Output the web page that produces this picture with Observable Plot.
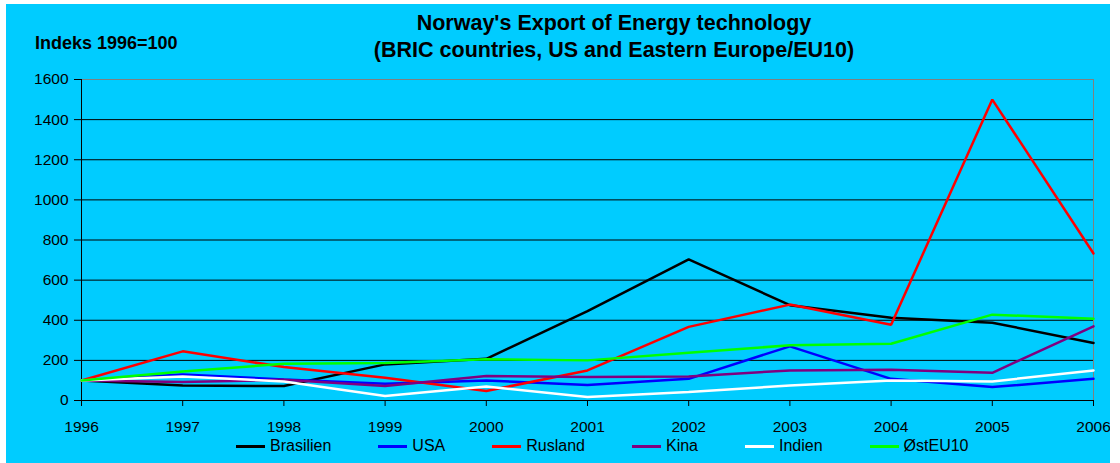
<!DOCTYPE html>
<html><head><meta charset="utf-8">
<script src="https://cdn.jsdelivr.net/npm/d3@7"></script>
<script src="https://cdn.jsdelivr.net/npm/@observablehq/plot@0.6"></script>
<style>
html,body{margin:0;padding:0;background:#fff;}
#chart{position:absolute;left:6px;top:4px;width:1104px;height:459px;background:#00ccff;font-family:"Liberation Sans",Arial,sans-serif;overflow:hidden;color:#000;}
#title{position:absolute;left:308px;top:6px;width:600px;text-align:center;font-weight:bold;font-size:21.5px;line-height:27px;white-space:nowrap;}
#ylab{position:absolute;left:29px;top:30px;font-weight:bold;font-size:18px;line-height:18px;white-space:nowrap;}
#plot{position:absolute;left:0;top:60px;}
#legend{position:absolute;left:230px;top:432px;display:flex;gap:47px;font-size:16px;line-height:20px;white-space:nowrap;}
.item{display:flex;align-items:center;gap:5px;}
.sw{display:inline-block;width:29px;height:3px;}
</style>
</head><body>
<div id="chart">
  <div id="title">Norway's Export of Energy technology<br>(BRIC countries, US and Eastern Europe/EU10)</div>
  <div id="ylab">Indeks 1996=100</div>
  <div id="plot"></div>
  <div id="legend"></div>
</div>
<script>
const years = [1996, 1997, 1998, 1999, 2000, 2001, 2002, 2003, 2004, 2005, 2006];
const brasilien = [100, 75, 72, 180, 208, 445, 703, 475, 412, 388, 287];
const usa       = [100, 130, 105, 83, 100, 77, 108, 270, 108, 67, 108];
const rusland   = [100, 245, 167, 113, 47, 150, 367, 478, 378, 1500, 733];
const kina      = [100, 92, 103, 72, 122, 117, 120, 150, 153, 138, 370];
const indien    = [100, 120, 95, 22, 70, 17, 42, 75, 100, 95, 150];
const ostEU10   = [100, 145, 183, 187, 205, 200, 238, 275, 283, 428, 408];
const seriesNames = ["Brasilien", "USA", "Rusland", "Kina", "Indien", "ØstEU10"];
const seriesColors = ["#000000", "#0000ff", "#ff0000", "#800080", "#ffffff", "#00ff00"];
const yTicks = [0, 200, 400, 600, 800, 1000, 1200, 1400, 1600];

const seriesValues = [brasilien, usa, rusland, kina, indien, ostEU10];
const data = [];
seriesNames.forEach((name, i) => {
  years.forEach((yr, j) => data.push({series: name, year: yr, value: seriesValues[i][j]}));
});

const chart = Plot.plot({
  width: 1104,
  height: 372,
  marginTop: 15,
  marginLeft: 75,
  marginRight: 17,
  marginBottom: 36,
  style: {background: "transparent", fontFamily: "'Liberation Sans', Arial, sans-serif", fontSize: "15.5px", color: "#000"},
  x: {type: "linear", domain: [1996, 2006]},
  y: {domain: [0, 1600]},
  color: {domain: seriesNames, range: seriesColors},
  marks: [
    Plot.ruleY(yTicks.filter(d => d > 0 && d < 1600), {stroke: "#000", strokeWidth: 1}),
    Plot.ruleY([1600], {stroke: "#808080", strokeWidth: 1}),
    Plot.ruleX([2006], {stroke: "#808080", strokeWidth: 1}),
    Plot.axisY({ticks: yTicks, tickFormat: d3.format("d"), tickSize: 7, tickPadding: 6, label: null, stroke: "#000", fill: "#000"}),
    Plot.axisX({ticks: years, tickFormat: d3.format("d"), tickSize: 6, tickPadding: 14, label: null, stroke: "#000", fill: "#000"}),
    Plot.ruleX([1996], {stroke: "#000", strokeWidth: 1}),
    Plot.ruleY([0], {stroke: "#000", strokeWidth: 1}),
    Plot.line(data, {x: "year", y: "value", z: "series", stroke: "series", strokeWidth: 2.5, strokeLinejoin: "miter"})
  ]
});
document.getElementById("plot").appendChild(chart);

const legend = document.getElementById("legend");
seriesNames.forEach((name, i) => {
  const it = document.createElement("div");
  it.className = "item";
  const sw = document.createElement("span");
  sw.className = "sw";
  sw.style.background = seriesColors[i];
  const tx = document.createElement("span");
  tx.textContent = name;
  it.appendChild(sw); it.appendChild(tx);
  legend.appendChild(it);
});
</script>
</body></html>
